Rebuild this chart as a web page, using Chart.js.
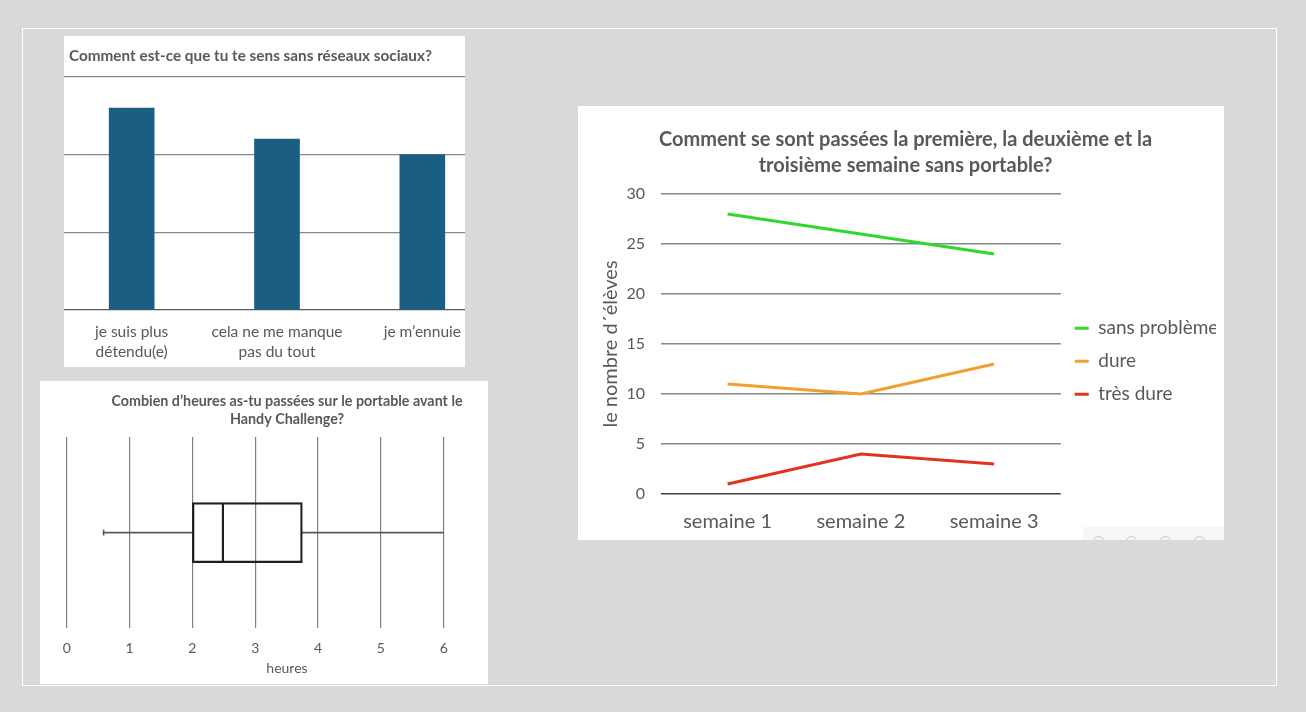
<!DOCTYPE html>
<html lang="fr">
<head>
<meta charset="utf-8">
<title>Handy Challenge</title>
<script src="https://cdn.jsdelivr.net/npm/chart.js@4.4.1/dist/chart.umd.min.js"></script>
<style>
  html, body { margin: 0; padding: 0; }
  body { width: 1306px; height: 712px; background: #d9d9d9; position: relative; overflow: hidden; font-family: Lato, sans-serif; }
  .cadre { position: absolute; left: 22px; top: 28px; width: 1253px; height: 656px; border: 1.5px solid #fff; }
  .panneau { position: absolute; background: #fff; overflow: hidden; }
  .panneau canvas { position: absolute; top: 0; }
  #p1 { left: 64px; top: 36px; width: 401px; height: 331px; }
  #p1 h2 { position: absolute; left: 5px; top: 10px; margin: 0; font: bold 15.3px/18px Lato, sans-serif; color: #595959; white-space: nowrap; }
  #p2 { left: 40px; top: 381px; width: 448px; height: 303px; }
  #p3 { left: 578px; top: 106px; width: 646px; height: 434px; }
  .barre-outils { position: absolute; left: 505px; top: 421px; width: 141px; height: 13px; background: #f6f6f6; }
  .barre-outils span { position: absolute; top: 9px; width: 9px; height: 9px; border: 1px solid #c8c8c8; border-radius: 50%; }
</style>
</head>
<body>
<div class="cadre"></div>

<div class="panneau" id="p1">
  <canvas id="chartReseaux" width="436" height="331" style="left:-5px"></canvas>
  <h2>Comment est-ce que tu te sens sans réseaux sociaux?</h2>
</div>

<div class="panneau" id="p2">
  <canvas id="chartHeures" width="494" height="303" style="left:0"></canvas>
</div>

<div class="panneau" id="p3">
  <canvas id="chartSemaines" width="629" height="434" style="left:17px"></canvas>
  <div class="barre-outils">
    <span style="left:10px"></span><span style="left:43px"></span><span style="left:77px"></span><span style="left:111px"></span>
  </div>
</div>

<script>
// --- données ---
const reseauxLabels = [["je suis plus", "détendu(e)"], ["cela ne me manque", "pas du tout"], ["je m’ennuie"]];
const reseauxValeurs = [26, 22, 20];

// boîte à moustaches : min, Q1, médiane, Q3, max (heures)
const heuresMin = 0.58;
const heuresQ1 = 2;
const heuresMediane = 2.5;
const heuresQ3 = 3.75;
const heuresMax = 6;

const semaines = ["semaine 1", "semaine 2", "semaine 3"];
const sansProbleme = [28, 26, 24];
const dure = [11, 10, 13];
const tresDure = [1, 4, 3];

const texte = "#595959";
Chart.defaults.font.family = "Lato, sans-serif";
Chart.defaults.color = texte;

function couleurGrille(fonce, clair) {
  return (ctx) => (ctx.tick && ctx.tick.value === 0 ? fonce : clair);
}

// fixe la taille d'un axe (Chart.js réserve 2x le padding des ticks)
const largeur = (w) => (scale) => { scale.width = w; };
const hauteur = (h) => (scale) => { scale.height = h; };

// --- 1. réseaux sociaux ---
new Chart(document.getElementById("chartReseaux"), {
  type: "bar",
  data: {
    labels: reseauxLabels,
    datasets: [{
      data: reseauxValeurs,
      backgroundColor: "#1a5f82",
      barThickness: 45
    }]
  },
  options: {
    responsive: false,
    animation: false,
    layout: { padding: { top: 41, bottom: 5 } },
    scales: {
      x: {
        afterFit: hauteur(52),
        grid: { display: false, drawTicks: false },
        border: { display: false },
        ticks: { color: texte, font: { size: 15.5, lineHeight: 1.29 }, padding: 12, maxRotation: 0, autoSkip: false }
      },
      y: {
        min: 0,
        max: 30,
        ticks: { display: false, stepSize: 10 },
        grid: { color: couleurGrille("#595959", "#8a8a8a"), lineWidth: 1.3, drawTicks: false },
        border: { display: false }
      }
    },
    plugins: { legend: { display: false }, tooltip: { enabled: false } }
  }
});

// --- 2. heures sur le portable (boîte à moustaches) ---
const boite = { backgroundColor: "rgba(0,0,0,0)", borderColor: "#1e1e1e", borderWidth: 1.6, barThickness: 60, grouped: false, order: 1 };
const moustache = { backgroundColor: "#595959", borderWidth: 0, barThickness: 1.3, grouped: false, order: 2 };
const axeVide = { ticks: { display: false }, grid: { display: false }, border: { display: false } };

new Chart(document.getElementById("chartHeures"), {
  type: "bar",
  data: {
    labels: ["heures"],
    datasets: [
      { ...boite, data: [[heuresQ1, heuresMediane]], borderSkipped: false },
      { ...boite, data: [[heuresMediane, heuresQ3]], borderSkipped: "start" },
      { ...moustache, data: [[heuresMin, heuresQ1]] },
      { ...moustache, data: [[heuresQ3, heuresMax]] },
      { ...moustache, data: [[heuresMin, heuresMin + 0.015]], barThickness: 5 }
    ]
  },
  options: {
    indexAxis: "y",
    responsive: false,
    animation: false,
    layout: { padding: { bottom: 3.6 } },
    scales: {
      x: {
        min: 0,
        max: 6,
        afterFit: hauteur(28.4),
        ticks: { stepSize: 1, color: texte, font: { size: 14 }, padding: 11.6 },
        grid: { color: "#808080", lineWidth: 1.2, drawTicks: false },
        border: { display: false }
      },
      y: { ...axeVide, position: "left", afterFit: largeur(26.7) },
      y2: { ...axeVide, type: "category", position: "right", afterFit: largeur(90.3) }
    },
    plugins: {
      legend: { display: false },
      tooltip: { enabled: false },
      title: {
        display: true,
        text: ["Combien d’heures as-tu passées sur le portable avant le", "Handy Challenge?"],
        color: texte,
        font: { size: 14.3, weight: "bold", lineHeight: 1.26 },
        padding: { top: 11, bottom: 9 }
      },
      subtitle: {
        display: true,
        position: "bottom",
        text: "heures",
        color: texte,
        font: { size: 14, weight: "normal" },
        padding: { top: 3, bottom: 4 }
      }
    }
  }
});

// --- 3. semaines sans portable ---
new Chart(document.getElementById("chartSemaines"), {
  type: "line",
  data: {
    labels: semaines,
    datasets: [
      { label: "sans problème", data: sansProbleme, borderColor: "#2fd82f", backgroundColor: "#2fd82f", borderWidth: 3 },
      { label: "dure", data: dure, borderColor: "#f0a030", backgroundColor: "#f0a030", borderWidth: 3 },
      { label: "très dure", data: tresDure, borderColor: "#e0341e", backgroundColor: "#e0341e", borderWidth: 3 }
    ]
  },
  options: {
    responsive: false,
    animation: false,
    layout: { padding: { bottom: 6, right: 8 } },
    elements: {
      line: { tension: 0 },
      point: { radius: 0 }
    },
    scales: {
      x: {
        offset: true,
        afterFit: hauteur(40),
        grid: { display: false, drawTicks: false },
        border: { display: false },
        ticks: { color: texte, font: { size: 20 }, padding: 16 }
      },
      y: {
        min: 0,
        max: 30,
        afterFit: largeur(66),
        ticks: { stepSize: 5, color: texte, font: { size: 16 }, padding: 16 },
        grid: { color: couleurGrille("#404040", "#878787"), lineWidth: 1.5, drawTicks: false },
        border: { display: false },
        title: { display: true, text: "le nombre d´élèves", color: texte, font: { size: 20 }, padding: { top: 4, bottom: 4 } }
      }
    },
    plugins: {
      tooltip: { enabled: false },
      title: {
        display: true,
        text: ["Comment se sont passées la première, la deuxième et la", "troisième semaine sans portable?"],
        color: texte,
        font: { size: 20, weight: "bold", lineHeight: 1.3 },
        padding: { top: 21, bottom: 15 }
      },
      legend: {
        position: "right",
        fullSize: false,
        title: { display: true, text: " ", font: { size: 12 }, padding: 10 },
        labels: { usePointStyle: true, pointStyle: "line", pointStyleWidth: 14, color: texte, font: { size: 19 }, padding: 14 }
      }
    }
  }
});
</script>
</body>
</html>
